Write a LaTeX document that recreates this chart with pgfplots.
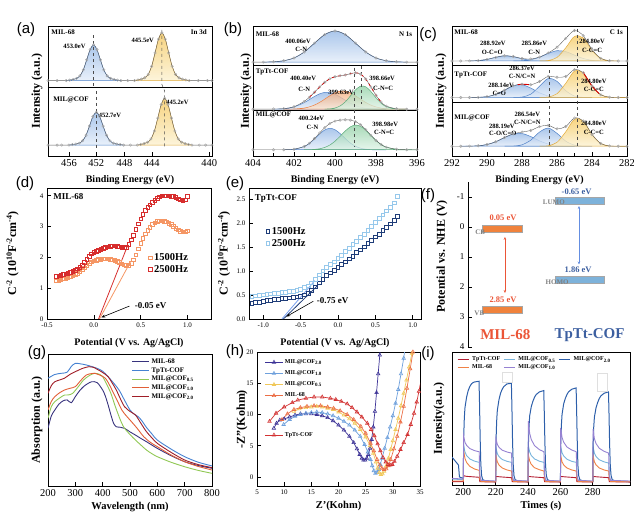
\documentclass[border=0pt]{standalone}
\usepackage{fontspec}
\setmainfont{Liberation Serif}
\newfontfamily\panelfont{Liberation Sans}
\usepackage{pgfplots}
\pgfplotsset{compat=1.18}
\usetikzlibrary{arrows.meta}

\definecolor{bT}{RGB}{150,185,230}\definecolor{bB}{RGB}{228,237,249}\definecolor{bL}{RGB}{80,130,200}
\definecolor{yT}{RGB}{245,200,95}\definecolor{yB}{RGB}{252,242,210}\definecolor{yL}{RGB}{225,170,60}
\definecolor{oT}{RGB}{245,170,120}\definecolor{oB}{RGB}{252,230,210}\definecolor{oL}{RGB}{235,130,70}
\definecolor{gT}{RGB}{140,205,160}\definecolor{gB}{RGB}{222,243,230}\definecolor{gL}{RGB}{90,170,120}
\definecolor{dOr}{RGB}{245,150,100}\definecolor{dRe}{RGB}{215,45,45}
\definecolor{eDk}{RGB}{30,60,120}\definecolor{eLt}{RGB}{150,200,235}
\definecolor{fOr}{RGB}{240,130,60}\definecolor{fBl}{RGB}{125,178,218}
\definecolor{fRt}{RGB}{235,85,55}\definecolor{fBt}{RGB}{60,95,160}
\definecolor{gNavy}{RGB}{55,50,125}\definecolor{gBlue}{RGB}{70,130,210}\definecolor{gGreen}{RGB}{145,200,85}
\definecolor{gOrange}{RGB}{225,95,55}\definecolor{gDRed}{RGB}{160,30,40}
\definecolor{hNavy}{RGB}{60,50,150}\definecolor{hLBlue}{RGB}{110,160,220}\definecolor{hYel}{RGB}{240,200,90}
\definecolor{hOr}{RGB}{235,110,70}\definecolor{hRed}{RGB}{210,50,50}
\definecolor{iRed}{RGB}{180,30,50}\definecolor{iOr}{RGB}{240,130,70}\definecolor{iLBl}{RGB}{120,180,220}
\definecolor{iPur}{RGB}{150,130,210}\definecolor{iDBl}{RGB}{45,95,170}

\pgfplotsset{
 base/.style={scale only axis, anchor=north west, axis line style={line width=0.7pt},
   tick style={black, line width=0.6pt},
   tick label style={font=\fontsize{10}{10}\selectfont},
   xlabel style={font=\bfseries\fontsize{10}{12}\selectfont},
   ylabel style={font=\bfseries\fontsize{12}{14}\selectfont},
   /pgf/number format/assume math mode=true, tick pos=left},
 xps/.style={base, height=130pt, x dir=reverse, ymin=0, ymax=1, ytick=\empty,
   xlabel={Binding Energy (eV)}, ylabel={Intensity (a.u.)},
   xlabel style={at={(axis description cs:0.5,-0.185)}, anchor=center},
   tick label style={font=\fontsize{10.5}{10.5}\selectfont}},
 env/.style={smooth, color=gray!75!black, line width=0.4pt, mark=o, mark size=1.25pt,
   mark options={gray!70, fill=white, line width=0.45pt}},
 cb/.style={smooth, draw=bL, line width=0.5pt, top color=bT, bottom color=bB, fill opacity=0.8},
 cy/.style={smooth, draw=yL, line width=0.5pt, top color=yT, bottom color=yB, fill opacity=0.8},
 co/.style={smooth, draw=oL, line width=0.5pt, top color=oT, bottom color=oB, fill opacity=0.75},
 cg/.style={smooth, draw=gL, line width=0.5pt, top color=gT, bottom color=gB, fill opacity=0.75},
}
\tikzset{ann/.style={font=\rmfamily\bfseries\fontsize{6.5}{7}\selectfont, inner sep=0.5pt},
  tag/.style={font=\rmfamily\bfseries\fontsize{7}{7}\selectfont, inner sep=0.5pt},
  plab/.style={font=\panelfont\fontsize{15}{15}\selectfont}}

\begin{document}
\begin{tikzpicture}

% ---------------- (a)
\begin{axis}[xps, at={(48pt,491pt)}, width=164pt, xmin=440, xmax=458,
  xtick={455.7,452.7,449.6,446.6,440.3}, xticklabels={456,452,448,444,440},
  ylabel style={at={(axis description cs:-0.067,0.5)}, anchor=center}]
\addplot[cb] coordinates {(456.0,.58)(455.625,.584)(455.25,.588)(454.875,.597)(454.5,.616)(454.125,.663)(453.75,.740)(453.375,.819)(453,.855)(452.625,.819)(452.25,.740)(451.875,.663)(451.5,.616)(451.125,.597)(450.75,.588)(450.375,.584)(450.0,.58)} --cycle;
\addplot[cy] coordinates {(448.5,.58)(448.125,.5855)(447.75,.591)(447.375,.602)(447.0,.628)(446.625,.690)(446.25,.793)(445.875,.899)(445.5,.947)(445.125,.899)(444.75,.793)(444.375,.690)(444.0,.628)(443.625,.602)(443.25,.591)(442.875,.5855)(442.5,.58)} --cycle;
\addplot[env] coordinates {(458,.58)(457,.58)(456.0,.58)(455.625,.584)(455.25,.588)(454.875,.597)(454.5,.616)(454.125,.663)(453.75,.740)(453.375,.819)(453,.855)(452.625,.819)(452.25,.740)(451.875,.663)(451.5,.616)(451.125,.597)(450.75,.588)(450.375,.584)(450.0,.58)(449.25,.58)(448.5,.58)(448.125,.5855)(447.75,.591)(447.375,.602)(447.0,.628)(446.625,.690)(446.25,.793)(445.875,.899)(445.5,.947)(445.125,.899)(444.75,.793)(444.375,.690)(444.0,.628)(443.625,.602)(443.25,.591)(442.875,.5855)(442.5,.58)(441.5,.58)(440.5,.58)(440,.58)};
\addplot[cb] coordinates {(455.7,.084)(455.325,.088)(454.95,.092)(454.575,.099)(454.2,.117)(453.825,.160)(453.45,.230)(453.075,.303)(452.7,.336)(452.325,.303)(451.95,.230)(451.575,.160)(451.2,.117)(450.825,.099)(450.45,.092)(450.075,.088)(449.7,.084)} --cycle;
\addplot[cy] coordinates {(448.2,.084)(447.825,.089)(447.45,.095)(447.075,.106)(446.7,.131)(446.325,.192)(445.95,.292)(445.575,.396)(445.2,.443)(444.825,.396)(444.45,.292)(444.075,.192)(443.7,.131)(443.325,.106)(442.95,.095)(442.575,.089)(442.2,.084)} --cycle;
\addplot[env] coordinates {(458,.084)(457,.084)(456.5,.084)(455.7,.084)(455.325,.088)(454.95,.092)(454.575,.099)(454.2,.117)(453.825,.160)(453.45,.230)(453.075,.303)(452.7,.336)(452.325,.303)(451.95,.230)(451.575,.160)(451.2,.117)(450.825,.099)(450.45,.092)(450.075,.088)(449.7,.084)(448.95,.084)(448.2,.084)(447.825,.089)(447.45,.095)(447.075,.106)(446.7,.131)(446.325,.192)(445.95,.292)(445.575,.396)(445.2,.443)(444.825,.396)(444.45,.292)(444.075,.192)(443.7,.131)(443.325,.106)(442.95,.095)(442.575,.089)(442.2,.084)(441.4,.084)(440.7,.084)(440,.084)};
\draw[line width=0.6pt] (rel axis cs:0,0.53) -- (rel axis cs:1,0.53);
\draw[dashed, gray!60!black, line width=0.5pt] (axis cs:453,0.93) -- (axis cs:453,0.54);
\draw[dashed, gray!60!black, line width=0.5pt] (axis cs:452.7,0.50) -- (axis cs:452.7,0.06);
\draw[dashed, gray!60!black, line width=0.5pt] (axis cs:445.5,0.97) -- (axis cs:445.5,0.55) -- (axis cs:445.2,0.50) -- (axis cs:445.2,0.06);
\node[tag, anchor=west] at (axis cs:457.7,0.95) {MIL-68};
\node[tag, anchor=east] at (axis cs:440.5,0.95) {In 3d};
\node[ann] at (axis cs:455.1,0.84) {453.0eV};
\node[ann] at (axis cs:447.6,0.89) {445.5eV};
\node[tag, anchor=west] at (axis cs:457.5,0.43) {MIL@COF};
\node[ann] at (axis cs:451.2,0.315) {452.7eV};
\node[ann] at (axis cs:443.8,0.415) {445.2eV};
\end{axis}

% ---------------- (b)
\begin{axis}[xps, at={(253pt,491pt)}, width=164pt, xmin=396, xmax=404, xtick={396,398,...,404}, minor x tick num=1,
  ylabel style={at={(axis description cs:-0.043,0.5)}, anchor=center}]
\addplot[cb] coordinates {(403.5,.722)(403,.725)(402.5,.733)(402,.754)(401.5,.800)(401,.868)(400.5,.934)(400,.962)(399.5,.934)(399,.868)(398.5,.800)(398,.754)(397.5,.733)(397,.725)(396.5,.722)} --cycle;
\addplot[env] coordinates {(404,.722)(403.5,.722)(403,.725)(402.5,.733)(402,.754)(401.5,.800)(401,.868)(400.5,.934)(400,.962)(399.5,.934)(399,.868)(398.5,.800)(398,.754)(397.5,.733)(397,.725)(396.5,.722)(396,.722)};
\addplot[cb] coordinates {(403,.3607)(402.5,.3641)(402,.3776)(401.5,.4105)(401.25,.434)(401,.4581)(400.75,.4782)(400.5,.489)(400.25,.4877)(400,.4747)(399.75,.4535)(399.5,.429)(399.25,.4063)(399,.3881)(398.75,.3755)(398.5,.3678)(398.25,.3635)(398,.3614)(397.5,.36)} --cycle;
\addplot[co] coordinates {(402.5,.3602)(402,.3617)(401.5,.3691)(401.25,.378)(401,.3923)(400.75,.4125)(400.5,.4375)(400.25,.4637)(400,.4858)(399.75,.4984)(399.5,.4981)(399.25,.485)(399,.4627)(398.75,.4365)(398.5,.4116)(398.25,.3916)(398,.3776)(397.75,.3688)(397.5,.364)(397,.3606)(396.5,.36)} --cycle;
\addplot[cg] coordinates {(400.5,.3607)(400.25,.3628)(400,.3693)(399.75,.3852)(399.5,.4161)(399.25,.4613)(399,.5087)(398.75,.5376)(398.5,.5325)(398.25,.4963)(398,.4476)(397.75,.4058)(397.5,.3795)(397,.3619)(396.5,.36)} --cycle;
\addplot[env] coordinates {(404,.36)(403,.361)(402.5,.364)(402,.379)(401.5,.420)(401.25,.452)(401,.490)(400.75,.531)(400.5,.567)(400.25,.594)(400,.610)(399.75,.617)(399.5,.623)(399.25,.633)(399,.640)(398.75,.630)(398.5,.592)(398.25,.531)(398,.467)(397.75,.415)(397.5,.384)(397,.363)(396.5,.36)(396,.36)};
\addplot[smooth, dashed, red!85!black, line width=0.7pt] coordinates {(401.25,.452)(401,.490)(400.75,.531)(400.5,.567)(400.25,.594)(400,.610)(399.75,.617)(399.5,.623)(399.25,.633)(399,.640)(398.75,.630)(398.5,.592)(398.25,.531)(398,.467)(397.75,.415)};
\addplot[cb] coordinates {(402.5,.0484)(402,.0522)(401.5,.0732)(401.25,.0973)(401,.1313)(400.75,.1693)(400.5,.2003)(400.25,.213)(400,.2022)(399.75,.1722)(399.5,.1343)(399.25,.0997)(399,.0747)(398.75,.0599)(398.5,.0526)(398.25,.0495)(398,.0484)(397.5,.048)} --cycle;
\addplot[cg] coordinates {(401.5,.0483)(401.25,.049)(401,.051)(400.75,.0558)(400.5,.066)(400.25,.0847)(400,.1137)(399.75,.1517)(399.5,.1922)(399.25,.2244)(399,.238)(398.75,.228)(398.5,.1982)(398.25,.1583)(398,.1193)(397.75,.0886)(397.5,.0683)(397,.0515)(396.5,.0484)(396,.048)} --cycle;
\addplot[env] coordinates {(404,.048)(403,.048)(402.5,.0484)(402,.0522)(401.5,.0735)(401.25,.0983)(401,.1343)(400.75,.1771)(400.5,.2183)(400.25,.2497)(400,.268)(399.75,.2759)(399.5,.2785)(399.25,.2761)(399,.2647)(398.75,.2399)(398.5,.2028)(398.25,.1598)(398,.1197)(397.75,.0886)(397.5,.0683)(397,.0515)(396.5,.0484)(396,.048)};
\draw[line width=0.6pt] (rel axis cs:0,0.70) -- (rel axis cs:1,0.70);
\draw[line width=0.6pt] (rel axis cs:0,0.35) -- (rel axis cs:1,0.35);
\draw[dashed, gray!60!black, line width=0.5pt] (axis cs:398.7,0.69) -- (axis cs:398.7,0.40);
\draw[dashed, gray!60!black, line width=0.5pt] (axis cs:399.05,0.68) -- (axis cs:399.05,0.07);
\node[tag, anchor=west] at (axis cs:403.9,0.94) {MIL-68};
\node[tag, anchor=east] at (axis cs:396.2,0.94) {N 1s};
\node[ann] at (axis cs:401.8,0.88) {400.06eV};
\node[ann] at (axis cs:401.65,0.82) {C-N};
\node[tag, anchor=west] at (axis cs:403.9,0.65) {TpTt-COF};
\node[ann] at (axis cs:401.55,0.60) {400.40eV};
\node[ann] at (axis cs:401.5,0.51) {C-N};
\node[ann] at (axis cs:399.7,0.49) {399.63eV};
\node[ann] at (axis cs:397.7,0.60) {398.66eV};
\node[ann] at (axis cs:397.65,0.52) {C-N=C};
\node[tag, anchor=west] at (axis cs:403.9,0.32) {MIL@COF};
\node[ann] at (axis cs:401.15,0.29) {400.24eV};
\node[ann] at (axis cs:401.1,0.22) {C-N};
\node[ann] at (axis cs:397.55,0.24) {398.98eV};
\node[ann] at (axis cs:397.6,0.18) {C-N=C};
\end{axis}

% ---------------- (c)
\begin{axis}[xps, at={(452pt,491pt)}, width=175pt, xmin=282, xmax=292, xtick={282,284,...,292}, minor x tick num=1,
  ylabel style={at={(axis description cs:-0.063,0.5)}, anchor=center}]
\addplot[cb] coordinates {(291,.7315)(290.5,.734)(290,.743)(289.5,.759)(289,.771)(288.5,.764)(288,.748)(287.5,.736)(287,.732)(286.5,.731)} --cycle;
\addplot[cb] coordinates {(288.5,.731)(288,.733)(287.5,.741)(287,.760)(286.5,.789)(286,.810)(285.5,.803)(285,.776)(284.5,.750)(284,.736)(283.5,.732)(283,.731)} --cycle;
\addplot[cy] coordinates {(287,.731)(286.5,.735)(286,.758)(285.5,.832)(285,.920)(284.5,.908)(284,.813)(283.5,.750)(283,.733)(282.5,.731)} --cycle;
\addplot[env] coordinates {(292,.731)(291.5,.731)(291,.7315)(290.5,.734)(290,.743)(289.5,.759)(289,.771)(288.5,.765)(288,.750)(287.5,.746)(287,.761)(286.5,.793)(286,.837)(285.5,.905)(285,.965)(284.5,.926)(284,.819)(283.5,.751)(283,.733)(282.5,.731)(282,.731)};
\addplot[cb] coordinates {(291,.4502)(290.5,.4513)(290,.4567)(289.5,.4736)(289,.5061)(288.5,.5404)(288,.5485)(287.5,.5226)(287,.4862)(286.5,.4622)(286,.4528)(285.5,.4504)(285,.45)} --cycle;
\addplot[cb] coordinates {(288.5,.4503)(288,.4537)(287.5,.4755)(287,.5365)(286.5,.5965)(286,.574)(285.5,.5025)(285,.4611)(284.5,.4512)(284,.45)} --cycle;
\addplot[cy] coordinates {(287,.4503)(286.5,.4539)(286,.4791)(285.5,.5589)(285,.6534)(284.5,.6397)(284,.5384)(283.5,.4706)(283,.4524)(282.5,.4501)(282,.45)} --cycle;
\addplot[env] coordinates {(292,.45)(291.5,.45)(291,.4502)(290.5,.4513)(290,.4567)(289.5,.4736)(289,.5061)(288.5,.5407)(288,.5522)(287.5,.5481)(287,.5730)(286.5,.6126)(286,.6059)(285.5,.6118)(285,.6645)(284.5,.6409)(284,.5384)(283.5,.4706)(283,.4524)(282.5,.4501)(282,.45)};
\addplot[smooth, red!85!black, line width=0.9pt] coordinates {(288.25,.548)(288,.5522)(287.6,.549)};
\addplot[smooth, red!85!black, line width=0.9pt] coordinates {(284.5,.6409)(284,.5384)(283.6,.48)};
\addplot[cb] coordinates {(291.5,.0751)(291,.0758)(290.5,.0787)(290,.0882)(289.5,.1097)(289,.1417)(288.5,.1692)(288,.1728)(287.5,.1495)(287,.1167)(286.5,.0922)(286,.0802)(285.5,.0761)(285,.075)} --cycle;
\addplot[cb] coordinates {(289,.0751)(288.5,.0765)(288,.0863)(287.5,.122)(287,.184)(286.5,.2147)(286,.1741)(285.5,.1139)(285,.0835)(284.5,.076)(284,.075)} --cycle;
\addplot[cy] coordinates {(287,.0753)(286.5,.079)(286,.1048)(285.5,.1865)(285,.2831)(284.5,.2692)(284,.1654)(283.5,.096)(283,.0774)(282.5,.0751)(282,.075)} --cycle;
\addplot[env] coordinates {(292,.075)(291.5,.0751)(291,.0758)(290.5,.0787)(290,.0882)(289.5,.1097)(289,.1418)(288.5,.1707)(288,.1841)(287.5,.1965)(287,.226)(286.5,.2359)(286,.2091)(285.5,.2265)(285,.2918)(284.5,.2702)(284,.1654)(283.5,.096)(283,.0774)(282.5,.0751)(282,.075)};
\draw[line width=0.6pt] (rel axis cs:0,0.70) -- (rel axis cs:1,0.70);
\draw[line width=0.6pt] (rel axis cs:0,0.415) -- (rel axis cs:1,0.415);
\draw[dashed, gray!60!black, line width=0.5pt] (axis cs:286.45,0.66) -- (axis cs:286.45,0.08);
\draw[dashed, gray!60!black, line width=0.5pt] (axis cs:284.85,0.98) -- (axis cs:284.85,0.08);
\node[tag, anchor=west] at (axis cs:291.9,0.95) {MIL-68};
\node[tag, anchor=east] at (axis cs:282.2,0.95) {C 1s};
\node[ann] at (axis cs:289.66,0.87) {288.92eV};
\node[ann] at (axis cs:289.7,0.80) {O-C=O};
\node[ann] at (axis cs:287.3,0.87) {285.86eV};
\node[ann] at (axis cs:287.3,0.80) {C-N};
\node[ann] at (axis cs:284.0,0.88) {284.80eV};
\node[ann] at (axis cs:284.0,0.81) {C-C=C};
\node[tag, anchor=west] at (axis cs:291.9,0.62) {TpTt-COF};
\node[ann] at (axis cs:288.0,0.675) {286.37eV};
\node[ann] at (axis cs:288.0,0.615) {C-N/C=N};
\node[ann] at (axis cs:289.2,0.545) {288.14eV};
\node[ann] at (axis cs:289.3,0.485) {C=O};
\node[ann] at (axis cs:283.9,0.575) {284.80eV};
\node[ann] at (axis cs:283.9,0.51) {C-C=C};
\node[tag, anchor=west] at (axis cs:291.9,0.29) {MIL@COF};
\node[ann] at (axis cs:287.7,0.32) {286.54eV};
\node[ann] at (axis cs:287.7,0.26) {C-N/C=N};
\node[ann] at (axis cs:289.15,0.23) {288.19eV};
\node[ann] at (axis cs:289.1,0.175) {C-O/C=O};
\node[ann] at (axis cs:283.9,0.25) {284.80eV};
\node[ann] at (axis cs:283.9,0.185) {C-C=C};
\end{axis}

% ---------------- (d)
\begin{axis}[base, at={(47pt,329pt)}, width=164pt, height=131pt, xmin=-0.5, xmax=1.25, ymin=0, ymax=4.25,
  xtick={-0.5,0,0.5,1}, ytick={0,1,2,3,4},
  tick label style={font=\fontsize{7}{7}\selectfont},
  xticklabel style={/pgf/number format/fixed, /pgf/number format/fixed zerofill, /pgf/number format/precision=1},
  xlabel={Potential (V vs. Ag/AgCl)}, xlabel style={at={(axis description cs:0.5,-0.183)}, anchor=center},
  ylabel={C\textsuperscript{-2} (10\textsuperscript{10}F\textsuperscript{-2}cm\textsuperscript{-4})},
  ylabel style={at={(axis description cs:-0.21,0.5)}, anchor=center},
  legend style={draw=none, fill=none, at={(0.6,0.53)}, anchor=north west, font=\bfseries\fontsize{10.5}{10.5}\selectfont, row sep=-1pt},
  legend cell align=left]
\addplot[only marks, mark=square, mark size=1.8pt, dOr, mark options={line width=0.8pt}] coordinates {
(-0.400,1.24)(-0.375,1.26)(-0.350,1.28)(-0.325,1.30)(-0.300,1.32)(-0.275,1.34)(-0.250,1.37)(-0.225,1.40)(-0.200,1.44)(-0.175,1.48)(-0.150,1.53)(-0.125,1.59)(-0.100,1.66)(-0.075,1.73)(-0.050,1.80)(-0.025,1.85)(0.000,1.88)(0.025,1.91)(0.050,1.93)(0.075,1.94)(0.100,1.95)(0.125,1.95)(0.150,1.95)(0.175,1.94)(0.200,1.92)(0.225,1.90)(0.250,1.87)(0.275,1.83)(0.300,1.79)(0.325,1.75)(0.350,1.73)(0.375,1.74)(0.400,1.80)(0.425,1.92)(0.450,2.08)(0.475,2.27)(0.500,2.45)(0.525,2.62)(0.550,2.76)(0.575,2.88)(0.600,2.98)(0.625,3.06)(0.650,3.12)(0.675,3.16)(0.700,3.18)(0.725,3.18)(0.750,3.17)(0.775,3.15)(0.800,3.11)(0.825,3.06)(0.850,3.00)(0.875,2.94)(0.900,2.89)(0.925,2.85)(0.950,2.83)(0.975,2.82)(1.000,2.86)};
\addlegendentry{1500Hz}
\addplot[only marks, mark=square, mark size=1.8pt, dRe, mark options={line width=0.8pt}] coordinates {
(-0.400,1.38)(-0.375,1.40)(-0.350,1.42)(-0.325,1.44)(-0.300,1.46)(-0.275,1.48)(-0.250,1.51)(-0.225,1.54)(-0.200,1.58)(-0.175,1.62)(-0.150,1.67)(-0.125,1.74)(-0.100,1.83)(-0.075,1.93)(-0.050,2.03)(-0.025,2.11)(0.000,2.16)(0.025,2.20)(0.050,2.23)(0.075,2.26)(0.100,2.29)(0.125,2.32)(0.150,2.34)(0.175,2.36)(0.200,2.37)(0.225,2.37)(0.250,2.36)(0.275,2.34)(0.300,2.32)(0.325,2.31)(0.350,2.33)(0.375,2.42)(0.400,2.56)(0.425,2.72)(0.450,2.90)(0.475,3.08)(0.500,3.25)(0.525,3.40)(0.550,3.52)(0.575,3.62)(0.600,3.70)(0.625,3.78)(0.650,3.85)(0.675,3.91)(0.700,3.96)(0.725,3.99)(0.750,4.00)(0.775,4.00)(0.800,3.99)(0.825,3.98)(0.850,3.97)(0.875,3.94)(0.900,3.90)(0.925,3.86)(0.950,3.84)(0.975,3.86)(1.000,3.98)};
\addlegendentry{2500Hz}
\addplot[dOr, line width=0.8pt, forget plot] coordinates {(0.06,0)(0.39,1.85)};
\addplot[dRe, line width=0.8pt, forget plot] coordinates {(0.05,0)(0.36,2.38)};
\draw[-{Stealth[length=4pt,width=3pt]}, line width=0.6pt] (axis cs:0.38,0.42) -- (axis cs:0.08,0.05);
\node[anchor=west, font=\rmfamily\bfseries\fontsize{9}{9}\selectfont] at (axis cs:0.40,0.45) {-0.05 eV};
\node[anchor=west, font=\rmfamily\bfseries\fontsize{9}{9}\selectfont] at (axis cs:-0.47,3.98) {MIL-68};
\end{axis}

% ---------------- (e)
\begin{axis}[base, at={(249pt,329pt)}, width=172pt, height=131pt, xmin=-1.19, xmax=1.11, ymin=0, ymax=2.73,
  xtick={-1,-0.5,0,0.5,1}, ytick={0,0.5,1,1.5,2,2.5},
  tick label style={font=\fontsize{7}{7}\selectfont, /pgf/number format/fixed, /pgf/number format/fixed zerofill, /pgf/number format/precision=1},
  xlabel={Potential (V vs. Ag/AgCl)}, xlabel style={at={(axis description cs:0.5,-0.183)}, anchor=center},
  ylabel={C\textsuperscript{-2} (10\textsuperscript{10}F\textsuperscript{-2}cm\textsuperscript{-4})},
  ylabel style={at={(axis description cs:-0.145,0.5)}, anchor=center},
  legend style={draw=none, fill=none, at={(0.08,0.73)}, anchor=north west, font=\bfseries\fontsize{10.5}{10.5}\selectfont, row sep=-1pt},
  legend cell align=left]
\addplot[only marks, mark=square, mark size=1.9pt, eDk, mark options={line width=0.9pt}] coordinates {
(-1.20,0.30)(-1.15,0.32)(-1.10,0.34)(-1.05,0.35)(-1.00,0.37)(-0.95,0.38)(-0.90,0.39)(-0.85,0.40)(-0.80,0.41)(-0.75,0.42)(-0.70,0.43)(-0.65,0.44)(-0.60,0.45)(-0.55,0.46)(-0.50,0.47)(-0.45,0.50)(-0.40,0.54)(-0.35,0.60)(-0.30,0.67)(-0.25,0.75)(-0.20,0.83)(-0.15,0.90)(-0.10,0.96)(-0.05,1.02)(0.00,1.07)(0.05,1.13)(0.10,1.19)(0.15,1.25)(0.20,1.31)(0.25,1.38)(0.30,1.44)(0.35,1.50)(0.40,1.57)(0.45,1.64)(0.50,1.71)(0.55,1.77)(0.60,1.84)(0.65,1.91)(0.70,1.98)(0.75,2.05)(0.80,2.14)};
\addlegendentry{1500Hz}
\addplot[only marks, mark=square, mark size=1.9pt, eLt, mark options={line width=0.9pt}] coordinates {
(-1.20,0.45)(-1.15,0.47)(-1.10,0.48)(-1.05,0.49)(-1.00,0.50)(-0.95,0.51)(-0.90,0.52)(-0.85,0.53)(-0.80,0.54)(-0.75,0.55)(-0.70,0.56)(-0.65,0.57)(-0.60,0.58)(-0.55,0.60)(-0.50,0.62)(-0.45,0.65)(-0.40,0.69)(-0.35,0.75)(-0.30,0.83)(-0.25,0.92)(-0.20,1.00)(-0.15,1.07)(-0.10,1.13)(-0.05,1.19)(0.00,1.26)(0.05,1.33)(0.10,1.40)(0.15,1.47)(0.20,1.55)(0.25,1.62)(0.30,1.70)(0.35,1.77)(0.40,1.85)(0.45,1.93)(0.50,2.01)(0.55,2.09)(0.60,2.17)(0.65,2.25)(0.70,2.33)(0.75,2.42)(0.80,2.55)};
\addlegendentry{2500Hz}
\addplot[eDk, line width=0.8pt, forget plot] coordinates {(-0.73,0)(-0.27,0.70)};
\addplot[eLt!80!blue, line width=0.8pt, forget plot] coordinates {(-0.75,0)(-0.31,0.80)};
\draw[-{Stealth[length=4pt,width=3pt]}, line width=0.6pt] (axis cs:-0.33,0.37) -- (axis cs:-0.69,0.05);
\node[anchor=west, font=\rmfamily\bfseries\fontsize{9}{9}\selectfont] at (axis cs:-0.33,0.38) {-0.75 eV};
\node[anchor=west, font=\rmfamily\bfseries\fontsize{9}{9}\selectfont] at (axis cs:-1.16,2.52) {TpTt-COF};
\end{axis}

% ---------------- (f)
\begin{axis}[base, at={(468pt,335pt)}, width=162pt, height=165pt, xmin=0, xmax=10, ymin=-1.5, ymax=4, y dir=reverse,
  axis x line=none, axis y line*=left, ytick={-1,0,1,2,3,4},
  tick label style={font=\fontsize{9}{9}\selectfont},
  ylabel={Potential vs. NHE (V)}, ylabel style={at={(axis description cs:-0.16,0.55)}, anchor=center}, clip=false]
\addplot[fill=fOr, draw=gray!70, line width=0.5pt] coordinates {(0.86,-0.07)(3.33,-0.07)(3.33,0.16)(0.86,0.16)} --cycle;
\addplot[fill=fOr, draw=gray!70, line width=0.5pt] coordinates {(0.86,2.63)(3.33,2.63)(3.33,2.86)(0.86,2.86)} --cycle;
\addplot[fill=fBl, draw=gray!70, line width=0.5pt] coordinates {(5.4,-0.98)(8.4,-0.98)(8.4,-0.76)(5.4,-0.76)} --cycle;
\addplot[fill=fBl, draw=gray!70, line width=0.5pt] coordinates {(5.4,1.63)(8.4,1.63)(8.4,1.86)(5.4,1.86)} --cycle;
\draw[{Stealth[length=3pt,width=2.5pt]}-{Stealth[length=3pt,width=2.5pt]}, fRt, line width=0.5pt] (axis cs:2.28,0.33) -- (axis cs:2.28,2.2);
\draw[{Stealth[length=3pt,width=2.5pt]}-{Stealth[length=3pt,width=2.5pt]}, fBl!80!blue, line width=0.5pt] (axis cs:6.85,-0.7) -- (axis cs:6.85,1.25);
\node[fRt, font=\rmfamily\bfseries\fontsize{8.5}{8.5}\selectfont] at (axis cs:2.16,-0.3) {0.05 eV};
\node[fRt, font=\rmfamily\bfseries\fontsize{8.5}{8.5}\selectfont] at (axis cs:2.16,2.42) {2.85 eV};
\node[fBt, font=\rmfamily\bfseries\fontsize{8.5}{8.5}\selectfont] at (axis cs:6.7,-1.17) {-0.65 eV};
\node[fBt, font=\rmfamily\bfseries\fontsize{8.5}{8.5}\selectfont] at (axis cs:6.8,1.43) {1.86 eV};
\node[gray, font=\rmfamily\bfseries\fontsize{7}{7}\selectfont] at (axis cs:0.75,0.17) {CB};
\node[gray, font=\rmfamily\bfseries\fontsize{7}{7}\selectfont] at (axis cs:0.7,2.88) {VB};
\node[gray, font=\rmfamily\bfseries\fontsize{7}{7}\selectfont] at (axis cs:5.3,-0.83) {LUMO};
\node[gray, font=\rmfamily\bfseries\fontsize{7}{7}\selectfont] at (axis cs:5.5,1.84) {HOMO};
\node[fRt, font=\rmfamily\bfseries\fontsize{15}{15}\selectfont] at (axis cs:2.3,3.6) {MIL-68};
\node[fBt, font=\rmfamily\bfseries\fontsize{15}{15}\selectfont] at (axis cs:7.5,3.6) {TpTt-COF};
\end{axis}

% ---------------- (g)
\begin{axis}[base, at={(48pt,163pt)}, width=164pt, height=132pt, xmin=200, xmax=800, ymin=0, ymax=1, ytick=\empty,
  xtick={200,300,...,800}, tick label style={font=\fontsize{10.5}{10.5}\selectfont},
  xlabel={Wavelength (nm)}, xlabel style={at={(axis description cs:0.5,-0.16)}, anchor=center, font=\bfseries\fontsize{10.5}{12}\selectfont},
  ylabel={Absorption (a.u.)}, ylabel style={at={(axis description cs:-0.067,0.5)}, anchor=center},
  legend style={draw=none, fill=none, at={(0.49,0.995)}, anchor=north west, font=\bfseries\fontsize{7}{7}\selectfont, row sep=-1.5pt},
  legend cell align=left]
\addplot[gNavy, smooth, line width=0.9pt] coordinates {(200,.437)(212,.53)(225,.576)(240,.62)(255,.645)(270,.652)(285,.631)(300,.677)(315,.72)(330,.753)(345,.775)(360,.79)(380,.783)(400,.727)(410,.68)(420,.614)(430,.54)(440,.475)(450,.449)(465,.445)(480,.437)(500,.41)(520,.386)(540,.36)(560,.336)(600,.285)(650,.23)(700,.184)(750,.155)(800,.134)};
\addlegendentry{MIL-68}
\addplot[gBlue, smooth, line width=0.9pt] coordinates {(200,.816)(225,.845)(250,.854)(270,.862)(285,.905)(300,.929)(320,.925)(340,.917)(360,.905)(380,.891)(400,.87)(420,.828)(440,.78)(460,.727)(480,.65)(500,.576)(515,.545)(530,.525)(545,.49)(560,.444)(580,.395)(600,.348)(650,.28)(700,.222)(750,.18)(800,.152)};
\addlegendentry{TpTt-COF}
\addplot[gGreen, smooth, line width=0.9pt] coordinates {(200,.513)(212,.6)(225,.639)(245,.67)(260,.689)(275,.69)(290,.702)(310,.75)(330,.803)(350,.835)(370,.854)(390,.845)(400,.828)(415,.77)(430,.702)(445,.61)(460,.525)(470,.475)(480,.437)(500,.39)(520,.348)(540,.31)(560,.273)(580,.245)(600,.222)(650,.18)(700,.146)(750,.118)(800,.096)};
\addlegendentry{MIL@COF\textsubscript{0.5}}
\addplot[gOrange, smooth, line width=0.9pt] coordinates {(200,.576)(212,.64)(225,.677)(245,.71)(260,.727)(280,.74)(300,.753)(320,.8)(340,.841)(360,.852)(370,.854)(390,.84)(410,.816)(425,.765)(440,.702)(455,.64)(470,.576)(485,.535)(500,.5)(525,.44)(550,.374)(575,.33)(600,.298)(650,.235)(700,.184)(750,.148)(800,.121)};
\addlegendentry{MIL@COF\textsubscript{1.0}}
\addplot[gDRed, smooth, line width=0.9pt] coordinates {(200,.702)(212,.76)(225,.79)(245,.805)(260,.816)(280,.845)(300,.866)(325,.89)(350,.904)(365,.9)(380,.884)(400,.86)(420,.828)(435,.78)(450,.727)(465,.66)(480,.601)(500,.565)(520,.538)(540,.475)(560,.412)(580,.365)(600,.323)(650,.255)(700,.197)(750,.162)(800,.139)};
\addlegendentry{MIL@COF\textsubscript{2.0}}
\end{axis}

% ---------------- (h)
\begin{axis}[base, at={(257pt,165pt)}, width=163pt, height=134pt, xmin=5, xmax=35, ymin=-1.44, ymax=20,
  xtick={5,10,...,35}, ytick={0,5,...,20}, tick label style={font=\fontsize{7}{7}\selectfont},
  xlabel={Z'(Kohm)}, xlabel style={at={(axis description cs:0.5,-0.15)}, anchor=center, font=\bfseries\fontsize{10.5}{12}\selectfont},
  ylabel={-Z"(Kohm)}, ylabel style={at={(axis description cs:-0.092,0.5)}, anchor=center},
  legend style={draw=none, fill=none, at={(0.03,0.975)}, anchor=north west, font=\bfseries\fontsize{6}{6}\selectfont, row sep=1.6pt},
  legend cell align=left]
\addplot[hNavy, line width=0.7pt, mark=triangle, mark size=2pt, mark options={line width=0.6pt}] coordinates {(8.1,7.8)(8.6,8.6)(9.2,9.1)(10.0,9.3)(11.0,9.6)(12.0,9.9)(13.0,10.1)(14.0,10.1)(15.0,10.1)(16.0,10.0)(17.0,9.8)(18.0,9.5)(19.0,9.0)(20.0,8.3)(21.0,7.5)(22.0,6.5)(22.8,5.5)(23.4,4.5)(23.9,3.6)(24.3,3.0)(24.6,2.7)(24.9,2.7)(25.2,3.0)(25.5,3.6)(25.8,4.6)(26.1,6.0)(26.4,8.0)(26.7,10.5)(27.0,13.5)(27.3,16.5)(27.6,19.5)(27.7,21)};
\addlegendentry{MIL@COF\textsubscript{2.0}}
\addplot[hLBlue, line width=0.7pt, mark=triangle, mark size=2pt, mark options={line width=0.6pt}] coordinates {(9.9,8.4)(11.0,9.2)(12.0,9.7)(13.0,10.0)(14.0,10.2)(15.0,10.3)(16.0,10.4)(17.0,10.3)(18.0,10.1)(19.0,9.8)(20.0,9.4)(21.0,8.9)(22.0,8.3)(23.0,7.5)(24.0,6.5)(24.8,5.2)(25.4,4.0)(25.9,2.8)(26.2,1.8)(26.5,1.0)(26.8,0.6)(27.1,0.7)(27.4,1.2)(27.7,2.0)(28.0,3.0)(28.5,4.6)(29.0,6.3)(29.5,8.0)(30.0,9.8)(30.5,11.8)(31.0,14.0)(31.5,16.5)(32.0,19.0)(32.3,21)};
\addlegendentry{MIL@COF\textsubscript{1.0}}
\addplot[hYel, line width=0.7pt, mark=triangle, mark size=2pt, mark options={line width=0.6pt}] coordinates {(11.8,10.5)(12.8,10.9)(14.0,11.1)(15.0,11.2)(16.0,11.3)(17.0,11.2)(18.0,11.0)(19.0,10.8)(20.0,10.4)(21.0,9.9)(22.0,9.3)(23.0,8.6)(24.0,7.6)(25.0,6.4)(25.8,5.0)(26.4,3.8)(26.9,2.4)(27.2,1.4)(27.5,0.7)(27.8,0.4)(28.1,0.5)(28.4,0.9)(28.8,1.8)(29.2,3.0)(29.6,4.4)(30.0,5.8)(30.5,7.6)(31.0,9.4)(31.5,11.4)(32.0,13.4)(32.5,15.5)(33.0,17.6)(33.5,19.8)(33.7,21)};
\addlegendentry{MIL@COF\textsubscript{0.5}}
\addplot[hOr, line width=0.7pt, mark=triangle, mark size=2pt, mark options={line width=0.6pt}] coordinates {(9.6,9.2)(10.6,10.1)(11.8,10.8)(13.0,11.1)(14.2,11.3)(15.5,11.4)(16.7,11.4)(18.0,11.2)(19.1,11.0)(20.3,10.6)(21.6,10.0)(22.8,9.2)(24.1,8.1)(25.0,7.0)(25.9,5.4)(26.5,4.2)(27.1,2.8)(27.6,1.9)(28.0,1.4)(28.4,1.2)(28.8,1.3)(29.2,1.8)(29.6,2.8)(30.2,4.5)(30.8,6.5)(31.4,8.8)(32.0,11.3)(32.6,14.2)(33.2,17.3)(33.7,20.0)(33.9,21)};
\addlegendentry{MIL-68}
\addlegendimage{empty legend}\addlegendentry{}
\addlegendimage{empty legend}\addlegendentry{}
\addlegendimage{empty legend}\addlegendentry{}
\addlegendimage{empty legend}\addlegendentry{}
\addplot[hRed, line width=0.7pt, mark=triangle, mark size=2pt, mark options={line width=0.6pt}] coordinates {(7.3,8.9)(8.5,10.2)(10.0,11.2)(11.5,11.9)(12.5,12.3)(14.0,12.6)(15.5,12.8)(17.0,12.8)(18.5,12.6)(19.5,12.4)(20.5,12.1)(21.6,11.7)(22.5,11.1)(23.4,10.4)(24.3,9.6)(25.3,8.6)(26.0,7.6)(26.6,6.6)(27.2,5.3)(27.7,4.2)(28.2,3.1)(28.7,2.4)(29.1,2.0)(29.5,1.9)(29.9,2.0)(30.3,2.5)(30.8,3.3)(31.4,4.4)(32.0,5.5)(32.7,6.8)(33.3,8.4)(33.9,10.2)(34.4,12.0)(34.8,13.7)(35.2,15.5)};
\addlegendentry{TpTt-COF}
\end{axis}

% ---------------- (i)
\begin{axis}[base, at={(452pt,165pt)}, width=178pt, height=133pt, xmin=193, xmax=303, ymin=0, ymax=1, ytick=\empty,
  xtick={200,220,...,280}, tick label style={font=\fontsize{10.5}{10.5}\selectfont},
  xlabel={Times (s)}, xlabel style={at={(axis description cs:0.5,-0.158)}, anchor=center, font=\bfseries\fontsize{10.5}{12}\selectfont},
  ylabel={Intensity(a.u.)}, ylabel style={at={(axis description cs:-0.073,0.5)}, anchor=center},
  legend columns=3,
  legend style={draw=none, fill=none, at={(0.01,0.995)}, anchor=north west, font=\bfseries\fontsize{6}{6}\selectfont, row sep=-2pt, column sep=1pt},
  legend image code/.code={\draw[#1, line width=1.2pt] (0pt,0pt) -- (11pt,0pt);},
  legend cell align=left]
\addplot[iRed, line width=0.9pt] coordinates {(193,.025)(199.9,.025)(200,.025)(200.2,.07)(202,.065)(209.8,.058)(210.2,.025)(219.9,.022)(220,.022)(220.2,.065)(222,.062)(229.8,.055)(230.2,.025)(239.9,.022)(240,.022)(240.2,.065)(242,.062)(249.8,.055)(250.2,.025)(259.9,.022)(260,.022)(260.2,.065)(262,.062)(269.8,.055)(270.2,.025)(279.9,.022)(280,.022)(280.2,.065)(282,.062)(289.8,.055)(290.2,.025)(303,.022)};
\addlegendentry{TpTt-COF}
\addplot[iLBl, line width=0.9pt] coordinates {(193,.045)(199.9,.04)(200,.04)(200.15,.30)(201,.248)(202,.222)(204,.196)(207,.179)(209.8,.17)(210.2,.06)(211,.03)(219.9,.028)(220,.028)(220.15,.28)(221,.236)(222,.214)(224,.192)(227,.178)(229.8,.17)(230.2,.06)(231,.03)(239.9,.028)(240,.028)(240.15,.30)(241,.248)(242,.222)(244,.196)(247,.179)(249.8,.17)(250.2,.06)(251,.03)(259.9,.028)(260,.028)(260.15,.29)(261,.242)(262,.218)(264,.194)(267,.178)(269.8,.17)(270.2,.06)(271,.03)(279.9,.028)(280,.028)(280.15,.29)(281,.24)(282,.215)(284,.19)(287,.174)(289.8,.165)(290.2,.06)(291,.03)(303,.028)};
\addlegendentry{MIL@COF\textsubscript{0.5}}
\addplot[iDBl, line width=1pt] coordinates {(193,.21)(195,.18)(197,.15)(197.6,.06)(199.9,.05)(200,.05)(200.2,.35)(200.6,.50)(201,.58)(202,.66)(203,.71)(204,.74)(205,.76)(206,.77)(207,.775)(209.7,.78)(210,.62)(210.4,.35)(210.8,.16)(211.3,.07)(212,.04)(214,.03)(219.9,.025)(220,.025)(220.2,.33)(220.6,.48)(221,.56)(222,.64)(223,.69)(224,.72)(225,.74)(226,.75)(227,.76)(229.7,.765)(230,.6)(230.4,.34)(230.8,.16)(231.3,.07)(232,.04)(234,.03)(239.9,.025)(240,.025)(240.2,.30)(240.6,.44)(241,.52)(242,.59)(243,.63)(244,.66)(245,.68)(246,.69)(247,.70)(249.7,.71)(250,.56)(250.4,.32)(250.8,.15)(251.3,.07)(252,.04)(254,.03)(259.9,.025)(260,.025)(260.2,.31)(260.6,.45)(261,.53)(262,.61)(263,.65)(264,.68)(265,.70)(266,.71)(267,.72)(269.7,.73)(270,.57)(270.4,.33)(270.8,.15)(271.3,.07)(272,.04)(274,.03)(279.9,.025)(280,.025)(280.2,.30)(280.6,.44)(281,.51)(282,.58)(283,.62)(284,.65)(285,.67)(286,.68)(287,.69)(289.7,.70)(290,.55)(290.4,.31)(290.8,.15)(291.3,.07)(292,.04)(294,.03)(303,.025)};
\addlegendentry{MIL@COF\textsubscript{2.0}}
\addplot[iOr, line width=0.9pt] coordinates {(193,.03)(199.9,.03)(200,.03)(200.15,.26)(201,.20)(202,.17)(204,.14)(207,.12)(209.8,.11)(210.2,.04)(211,.025)(219.9,.025)(220,.025)(220.15,.22)(221,.174)(222,.151)(224,.128)(227,.113)(229.8,.105)(230.2,.04)(231,.025)(239.9,.025)(240,.025)(240.15,.23)(241,.18)(242,.155)(244,.13)(247,.115)(249.8,.105)(250.2,.04)(251,.025)(259.9,.025)(260,.025)(260.15,.22)(261,.174)(262,.151)(264,.128)(267,.113)(269.8,.105)(270.2,.04)(271,.025)(279.9,.025)(280,.025)(280.15,.22)(281,.174)(282,.151)(284,.128)(287,.113)(289.8,.105)(290.2,.04)(291,.025)(303,.025)};
\addlegendentry{MIL-68}
\addplot[iPur, line width=0.9pt] coordinates {(193,.05)(199.9,.045)(200,.045)(200.15,.37)(201,.322)(202,.298)(204,.274)(207,.258)(209.8,.25)(210.2,.07)(211,.035)(219.9,.03)(220,.03)(220.15,.35)(221,.306)(222,.284)(224,.262)(227,.248)(229.8,.24)(230.2,.07)(231,.035)(239.9,.03)(240,.03)(240.15,.48)(241,.388)(242,.342)(244,.296)(247,.266)(249.8,.25)(250.2,.07)(251,.035)(259.9,.03)(260,.03)(260.15,.43)(261,.358)(262,.322)(264,.286)(267,.263)(269.8,.25)(270.2,.07)(271,.035)(279.9,.03)(280,.03)(280.15,.42)(281,.348)(282,.312)(284,.276)(287,.253)(289.8,.24)(290.2,.07)(291,.035)(303,.03)};
\addlegendentry{MIL@COF\textsubscript{1.0}}
\draw[gray!25, fill=white] (axis cs:224,0.775) rectangle (axis cs:230.2,0.85);
\draw[gray!25, fill=white] (axis cs:282.7,0.705) rectangle (axis cs:288.8,0.84);
\end{axis}

% panel labels
\node[plab] at (26pt,487pt) {(a)};
\node[plab] at (233pt,487pt) {(b)};
\node[plab] at (428pt,482pt) {(c)};
\node[plab] at (25pt,333pt) {(d)};
\node[plab] at (235pt,333pt) {(e)};
\node[plab] at (428pt,321pt) {(f)};
\node[plab] at (37pt,164pt) {(g)};
\node[plab] at (235pt,165pt) {(h)};
\node[plab] at (428pt,163pt) {(i)};
\pgfresetboundingbox
\useasboundingbox (0pt,0pt) rectangle (634pt,517pt);
\end{tikzpicture}
\end{document}
